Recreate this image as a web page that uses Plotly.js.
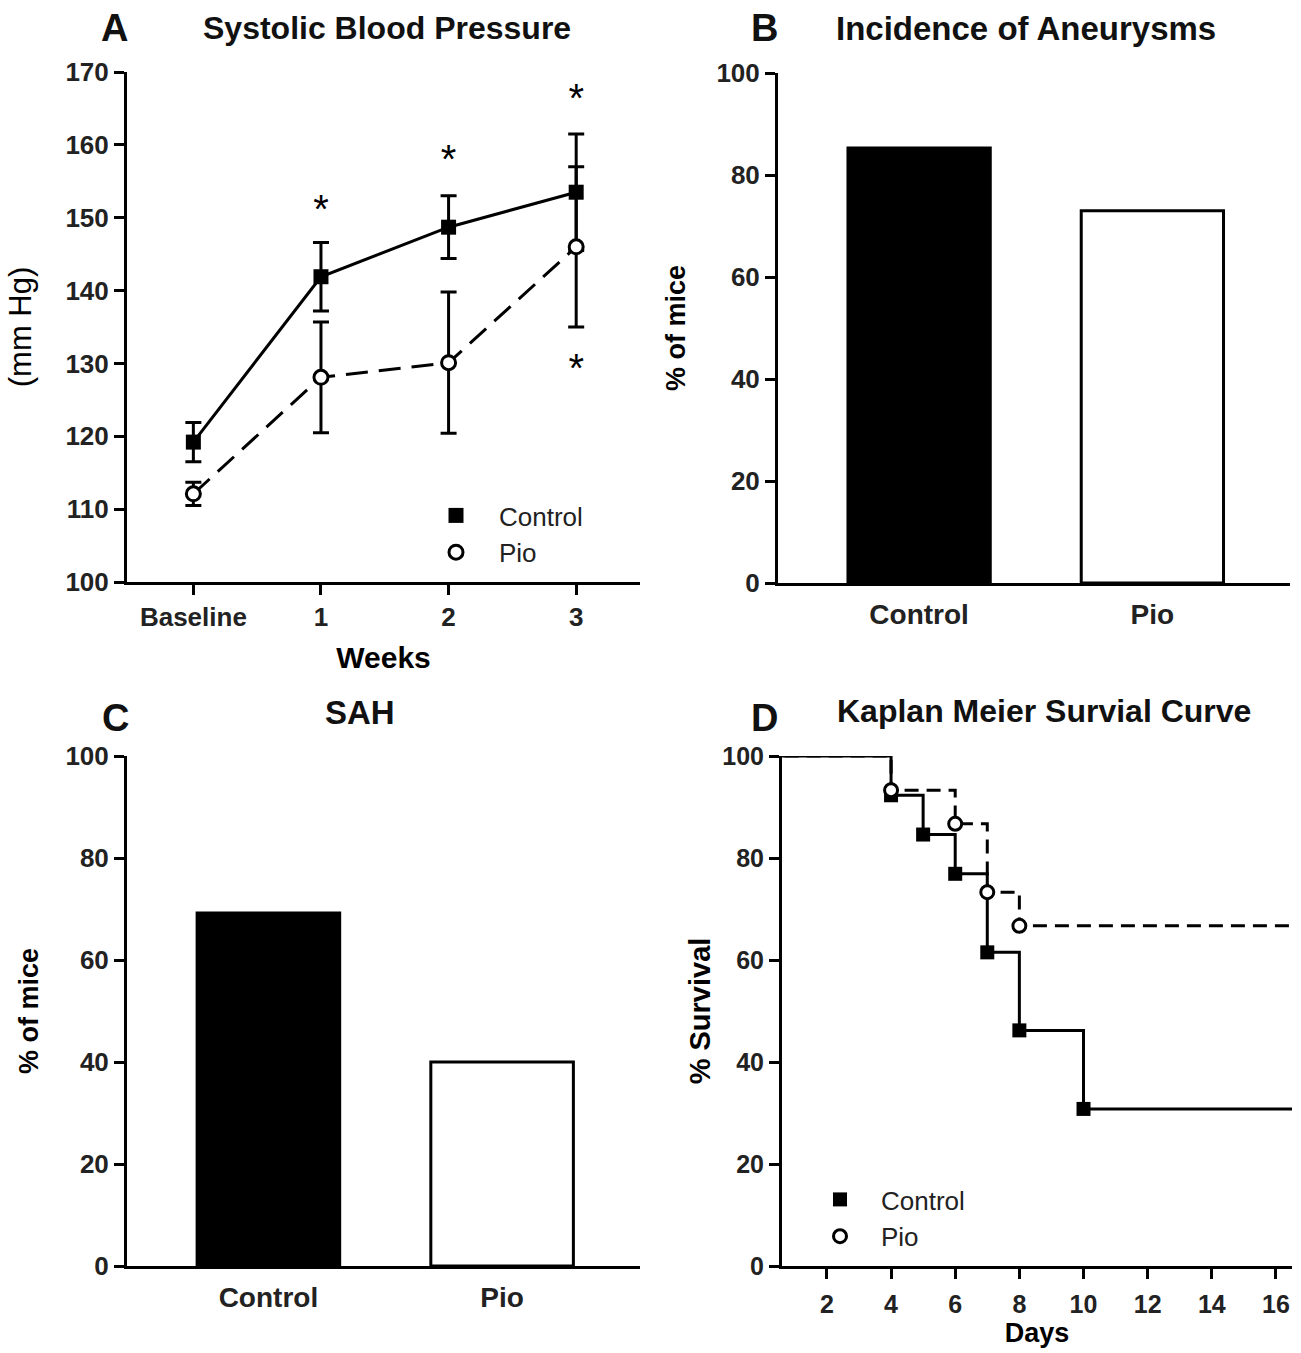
<!DOCTYPE html>
<html><head><meta charset="utf-8">
<script src="https://cdn.plot.ly/plotly-3.0.1.min.js"></script>
<style>html,body{margin:0;padding:0;background:#fff}</style>
</head><body><div id="chart" style="width:1301px;height:1353px"></div>
<script>
// Panel A: systolic blood pressure (mm Hg)
const weeks = ['Baseline', '1', '2', '3'];
const sbpControl = [119.2, 141.9, 148.7, 153.5];
const sbpControlErr = [2.7, 4.7, 4.3, 8.0];
const sbpPio = [112.1, 128.1, 130.1, 146.0];
const sbpPioErr = [1.6, 7.6, 9.7, 11.0];
const starWeeks = ['1', '2', '3', '3'];
const starY = [150.6, 157.5, 165.9, 128.8];

// Panels B and C
const groups = ['Control', 'Pio'];
const aneurysmPct = [85.3, 73.0];
const sahPct = [69.2, 40.0];

// Panel D: Kaplan Meier
const ctrlDays = [0, 4, 5, 6, 7, 8, 10, 16.5];
const ctrlSurv = [100, 92.3, 84.6, 76.9, 61.5, 46.2, 30.8, 30.8];
const pioDays = [0, 4, 6, 7, 8, 16.5];
const pioSurv = [100, 93.3, 86.7, 73.3, 66.7, 66.7];

const FONT = 'Liberation Sans, Arial, sans-serif';
const black = '#000';

const traces = [
  // Panel A
  {x: weeks, y: sbpControl, xaxis: 'x', yaxis: 'y', type: 'scatter', mode: 'lines+markers',
   line: {color: black, width: 3}, marker: {symbol: 'square', size: 15, color: black},
   error_y: {type: 'data', array: sbpControlErr, visible: true, color: black, thickness: 3, width: 8},
   showlegend: false, name: 'Control'},
  {x: weeks, y: sbpPio, xaxis: 'x', yaxis: 'y', type: 'scatter', mode: 'lines+markers',
   line: {color: black, width: 3, dash: '22px,11px'},
   marker: {symbol: 'circle', size: 14, color: '#fff', line: {color: black, width: 3}},
   error_y: {type: 'data', array: sbpPioErr, visible: true, color: black, thickness: 3, width: 8},
   showlegend: false, name: 'Pio'},
  {x: starWeeks, y: starY, xaxis: 'x', yaxis: 'y', type: 'scatter', mode: 'text',
   text: starWeeks.map(() => '*'), textfont: {family: FONT, size: 40, color: black},
   showlegend: false, hoverinfo: 'skip'},
  {x: [null], y: [null], xaxis: 'x', yaxis: 'y', type: 'scatter', mode: 'markers', name: 'Control',
   marker: {symbol: 'square', size: 15, color: black}, legend: 'legend'},
  {x: [null], y: [null], xaxis: 'x', yaxis: 'y', type: 'scatter', mode: 'markers', name: 'Pio',
   marker: {symbol: 'circle', size: 14, color: '#fff', line: {color: black, width: 3}}, legend: 'legend'},

  // Panel B
  {x: groups, y: aneurysmPct, xaxis: 'x2', yaxis: 'y2', type: 'bar', width: 0.61,
   marker: {color: ['#000', '#fff'], line: {color: black, width: 3}}, showlegend: false},

  // Panel C
  {x: groups, y: sahPct, xaxis: 'x3', yaxis: 'y3', type: 'bar', width: 0.61,
   marker: {color: ['#000', '#fff'], line: {color: black, width: 3}}, showlegend: false},

  // Panel D
  {x: ctrlDays, y: ctrlSurv, xaxis: 'x4', yaxis: 'y4', type: 'scatter', mode: 'lines',
   line: {color: black, width: 3, shape: 'hv'}, showlegend: false, name: 'Control'},
  {x: pioDays, y: pioSurv, xaxis: 'x4', yaxis: 'y4', type: 'scatter', mode: 'lines',
   line: {color: black, width: 3, shape: 'hv', dash: '14px,8px'}, showlegend: false, name: 'Pio'},
  {x: ctrlDays.slice(1, -1), y: ctrlSurv.slice(1, -1), xaxis: 'x4', yaxis: 'y4', type: 'scatter',
   mode: 'markers', name: 'Control', marker: {symbol: 'square', size: 14, color: black}, legend: 'legend2'},
  {x: pioDays.slice(1, -1), y: pioSurv.slice(1, -1), xaxis: 'x4', yaxis: 'y4', type: 'scatter',
   mode: 'markers', name: 'Pio', marker: {symbol: 'circle', size: 13, color: '#fff', line: {color: black, width: 3}},
   legend: 'legend2'}
];

const tickFont = {family: FONT, size: 26, color: '#222', weight: 'bold'};
function baseAxis(extra) {
  return Object.assign({
    showline: true, linewidth: 3, linecolor: black, showgrid: false, zeroline: false,
    ticks: 'outside', ticklen: 10, tickwidth: 3, tickcolor: black, tickfont: tickFont,
    automargin: false, fixedrange: true
  }, extra);
}

const W = 1301, H = 1353;
const px = v => v / W, py = v => 1 - v / H;

const layout = {
  width: W, height: H, margin: {l: 0, r: 0, t: 0, b: 0},
  paper_bgcolor: '#fff', plot_bgcolor: '#fff',
  font: {family: FONT, color: black},
  xaxis: baseAxis({domain: [px(127), px(640)], anchor: 'y', type: 'category', range: [-0.52, 3.5],
    ticklabelstandoff: 0,
    title: {text: 'Weeks', font: {family: FONT, size: 30, weight: 'bold'}, standoff: 16}}),
  yaxis: baseAxis({domain: [py(582), py(72)], anchor: 'x', range: [100, 170], dtick: 10,
    title: {text: '(mm Hg)', font: {family: FONT, size: 31}, standoff: 25}}),
  xaxis2: baseAxis({domain: [px(778), px(1290)], anchor: 'y2', type: 'category', range: [-0.605, 1.59],
    ticks: '', ticklabelstandoff: 4, tickfont: Object.assign({}, tickFont, {size: 28})}),
  yaxis2: baseAxis({domain: [py(583), py(73)], anchor: 'x2', range: [0, 100], dtick: 20,
    title: {text: '% of mice', font: {family: FONT, size: 27, weight: 'bold'}, standoff: 23}}),
  xaxis3: baseAxis({domain: [px(127), px(640)], anchor: 'y3', type: 'category', range: [-0.605, 1.59],
    ticks: '', ticklabelstandoff: 4, tickfont: Object.assign({}, tickFont, {size: 28})}),
  yaxis3: baseAxis({domain: [py(1266), py(756)], anchor: 'x3', range: [0, 100], dtick: 20,
    title: {text: '% of mice', font: {family: FONT, size: 27, weight: 'bold'}, standoff: 19}}),
  xaxis4: baseAxis({domain: [px(782), px(1292)], anchor: 'y4', range: [0.6, 16.5], tick0: 2, dtick: 2,
    ticklabelstandoff: 4, tickfont: Object.assign({}, tickFont, {size: 25}),
    title: {text: 'Days', font: {family: FONT, size: 27, weight: 'bold'}, standoff: 7}}),
  yaxis4: baseAxis({domain: [py(1266), py(756)], anchor: 'x4', range: [0, 100], dtick: 20,
    tickfont: Object.assign({}, tickFont, {size: 25}),
    title: {text: '% Survival', font: {family: FONT, size: 29, weight: 'bold'}, standoff: 4}}),
  legend: {x: px(413), y: py(492), xanchor: 'left', yanchor: 'top', bgcolor: 'rgba(0,0,0,0)',
    font: {family: FONT, size: 26, color: '#222'}, itemwidth: 76, tracegroupgap: 0},
  legend2: {x: px(799), y: py(1176), xanchor: 'left', yanchor: 'top', bgcolor: 'rgba(0,0,0,0)',
    font: {family: FONT, size: 26, color: '#222'}, itemwidth: 72, tracegroupgap: 0},
  annotations: [
    {text: 'A', x: px(114), y: py(28)},
    {text: 'Systolic Blood Pressure', x: px(387), y: py(28), size: 32},
    {text: 'B', x: px(765), y: py(28)},
    {text: 'Incidence of Aneurysms', x: px(1026), y: py(28), size: 33},
    {text: 'C', x: px(115), y: py(718)},
    {text: 'SAH', x: px(360), y: py(712), size: 33},
    {text: 'D', x: px(765), y: py(718)},
    {text: 'Kaplan Meier Survial Curve', x: px(1044), y: py(711), size: 32}
  ].map(a => ({text: a.text, x: a.x, y: a.y, xref: 'paper', yref: 'paper', xanchor: 'center', yanchor: 'middle',
    showarrow: false, font: {family: FONT, size: a.size || 38, weight: 'bold', color: '#111'}}))
};

Plotly.newPlot('chart', traces, layout, {displayModeBar: false, staticPlot: true});
</script>
</body></html>
